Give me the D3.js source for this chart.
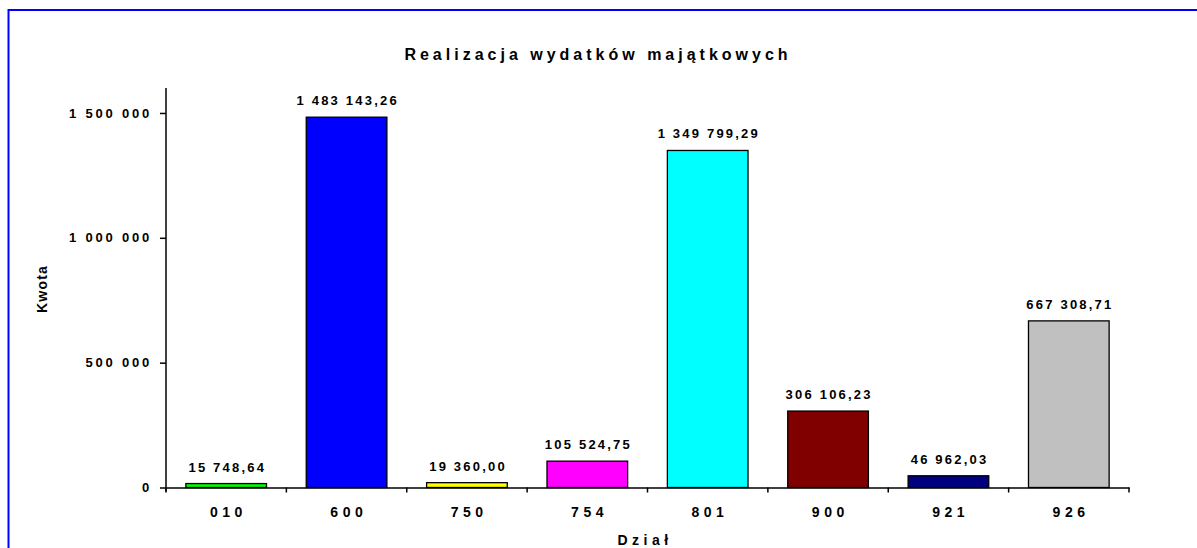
<!DOCTYPE html>
<html>
<head>
<meta charset="utf-8">
<style>
  body { margin: 0; background: #fff; }
  svg { display: block; font-family: "Liberation Sans", Arial, sans-serif; }
</style>
</head>
<body>
<div id="chart"></div>
<script src="https://d3js.org/d3.v7.min.js"></script>
<script>
  // dane
  const dzialy = ['010', '600', '750', '754', '801', '900', '921', '926'];
  const kwoty = [15748.64, 1483143.26, 19360.00, 105524.75, 1349799.29, 306106.23, 46962.03, 667308.71];
  const kolory = ['#00ff00', '#0000ff', '#ffff00', '#ff00ff', '#00ffff', '#800000', '#000080', '#c0c0c0'];
  const yTicks = [0, 500000, 1000000, 1500000];

  const W = 1197, H = 548;
  const plot = { left: 166, right: 1129, top: 88, bottom: 487.5 };

  const pl = d3.formatLocale({ decimal: ',', thousands: '\u00a0', grouping: [3], currency: ['', ' zł'] });
  const fmtVal = pl.format(',.2f');
  const fmtTick = pl.format(',.0f');

  const svg = d3.select('#chart')
    .append('svg')
    .attr('width', W)
    .attr('height', H);

  // ramka
  svg.append('rect')
     .attr('x', 8.5).attr('y', 10)
     .attr('width', 1300).attr('height', 700)
     .attr('fill', 'none')
     .attr('stroke', '#0000ff')
     .attr('stroke-width', 2);

  const x = d3.scaleBand()
    .domain(dzialy)
    .range([plot.left, plot.right])
    .paddingInner(0.33)
    .paddingOuter(0.165);

  const y = d3.scaleLinear()
    .domain([0, 1600000])
    .range([plot.bottom, plot.top]);

  // tytuł
  svg.append('text')
     .attr('x', 598).attr('y', 60)
     .attr('text-anchor', 'middle')
     .style('font-size', '16px')
     .style('font-weight', 'bold')
     .style('letter-spacing', '4px')
     .text('Realizacja wydatków majątkowych');

  // słupki
  const dane = dzialy.map((d, i) => ({ dzial: d, kwota: kwoty[i], kolor: kolory[i] }));

  svg.selectAll('rect.bar')
     .data(dane)
     .enter()
     .append('rect')
     .attr('class', 'bar')
     .attr('x', d => x(d.dzial))
     .attr('y', d => y(d.kwota))
     .attr('width', x.bandwidth())
     .attr('height', d => y(0) - y(d.kwota))
     .attr('fill', d => d.kolor)
     .attr('stroke', '#000')
     .attr('stroke-width', 1.3);

  // etykiety wartości
  svg.selectAll('text.val')
     .data(dane)
     .enter()
     .append('text')
     .attr('class', 'val')
     .attr('x', d => x(d.dzial) + x.bandwidth() / 2 + 1.1)
     .attr('y', d => y(d.kwota) - 12)
     .attr('text-anchor', 'middle')
     .style('font-size', '13px')
     .style('font-weight', 'bold')
     .style('letter-spacing', '2.2px')
     .text(d => fmtVal(d.kwota));

  // oś Y
  const yAxis = svg.append('g')
     .attr('transform', `translate(${plot.left},0)`)
     .call(d3.axisLeft(y).tickValues(yTicks).tickFormat(fmtTick).tickSize(6).tickSizeOuter(0));
  yAxis.select('.domain').attr('stroke-width', 1.5).attr('d', `M0,${plot.top}V${plot.bottom + 4}`);
  yAxis.selectAll('.tick line').attr('stroke-width', 1.5);
  yAxis.selectAll('.tick text')
     .attr('x', -14)
     .style('font-size', '13px')
     .style('font-weight', 'bold')
     .style('letter-spacing', '2.8px')
     .style('font-family', '"Liberation Sans", Arial, sans-serif');

  // oś X
  const xAxis = svg.append('g')
     .attr('transform', `translate(0,${plot.bottom})`)
     .call(d3.axisBottom(x).tickSize(0).tickSizeOuter(0));
  xAxis.select('.domain').attr('stroke-width', 1.5);
  xAxis.selectAll('.tick text')
     .attr('y', 20)
     .attr('dx', '2.2px')
     .style('font-size', '14px')
     .style('font-weight', 'bold')
     .style('letter-spacing', '4.5px')
     .style('font-family', '"Liberation Sans", Arial, sans-serif');

  // kreski między kategoriami
  const granice = dzialy.map(d => x(d) - x.step() * x.paddingInner() / 2).concat([plot.right]);
  xAxis.selectAll('line.sep')
     .data(granice)
     .enter()
     .append('line')
     .attr('class', 'sep')
     .attr('x1', d => d).attr('x2', d => d)
     .attr('y1', 0).attr('y2', 5)
     .attr('stroke', '#000')
     .attr('stroke-width', 1.5);

  // tytuły osi
  svg.append('text')
     .attr('transform', 'translate(47,289) rotate(-90)')
     .attr('text-anchor', 'middle')
     .style('font-size', '14px')
     .style('font-weight', 'bold')
     .style('letter-spacing', '1.2px')
     .text('Kwota');

  svg.append('text')
     .attr('x', 645).attr('y', 545)
     .attr('text-anchor', 'middle')
     .style('font-size', '14px')
     .style('font-weight', 'bold')
     .style('letter-spacing', '4.5px')
     .text('Dział');
</script>
</body>
</html>
